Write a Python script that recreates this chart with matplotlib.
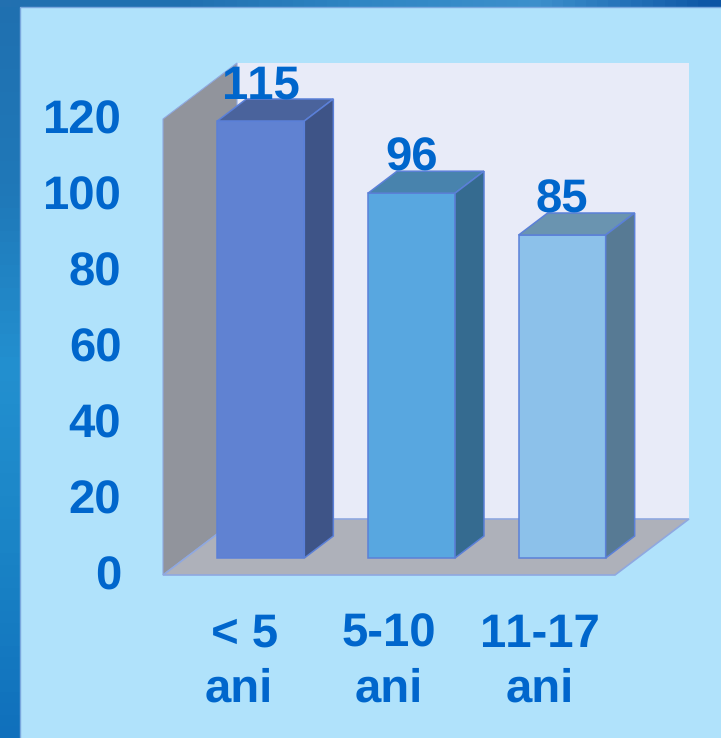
import numpy as np
import matplotlib.pyplot as plt
from matplotlib.colors import LinearSegmentedColormap
from matplotlib.patches import Polygon, Rectangle
from matplotlib.transforms import ScaledTranslation

categories = [" < 5\nani", "5-10\nani", "11-17\nani"]
values = [115, 96, 85]
y_ticks = [0, 20, 40, 60, 80, 100, 120]

front_colors = ["#6082d2", "#58a7e0", "#8cc1ea"]
top_colors = ["#4a639c", "#4883ad", "#6a94b0"]
side_colors = ["#3e5487", "#356b90", "#577a94"]
edge = "#5b80d8"
text_color = "#0066cc"

plt.rcParams['font.family'] = ['Liberation Sans', 'DejaVu Sans']
plt.rcParams['text.kerning_factor'] = 6
plt.rcParams['text.hinting'] = 'none'

W, H = 721, 738
fig = plt.figure(figsize=(W / 100, H / 100), dpi=100)

# slide background, in pixels
bg = fig.add_axes([0, 0, 1, 1])
bg.set_xlim(0, W)
bg.set_ylim(H, 0)
bg.axis('off')
left_cmap = LinearSegmentedColormap.from_list('l', ["#1f70b0", "#1f78b8", "#2390d0", "#1a84c6", "#1070bc"])
top_cmap = LinearSegmentedColormap.from_list('t', ["#2270b0", "#2070b0", "#2f86c4", "#3d90cc", "#0c55a5"])
bg.imshow(np.linspace(0, 1, 64).reshape(-1, 1), cmap=left_cmap, extent=(0, 20, H, 0), aspect='auto')
bg.imshow(np.linspace(0, 1, 64).reshape(1, -1), cmap=top_cmap, extent=(0, W, 7, 0), aspect='auto')
bg.set_xlim(0, W)
bg.set_ylim(H, 0)
bg.add_patch(Rectangle((20, 7), W, H, fc="#b0e2fb", ec="#7aa8de", lw=1))

# chart area, front edge of the floor
ax = fig.add_axes([163 / W, (H - 575) / H, 452 / W, 456 / H])
ax.set_xlim(-0.5, 2.5)
ax.set_ylim(0, 120)
ax.patch.set_alpha(0)
for s in ax.spines.values():
    s.set_visible(False)

# depth of the box and of the bars, in data units
dx = 74 / (452 / 3)
dy = 56 / 3.8
bar_w = 87 / (452 / 3)
off_x = 22.5 / (452 / 3)
off_y = 17 / 3.8
depth_x = 29 / (452 / 3)
depth_y = 22 / 3.8

x0, x1 = -0.5, 2.5
top = y_ticks[-1]
ax.add_patch(Rectangle((x0 + dx, dy), x1 - x0, top, fc="#e8ebf8", ec="none", clip_on=False, zorder=1))
ax.add_patch(Polygon([(x0, 0), (x0, top), (x0 + dx, top + dy), (x0 + dx, dy)],
                     fc="#91949c", ec="#8fa8e0", lw=0.8, clip_on=False, zorder=2))
ax.add_patch(Polygon([(x0, 0), (x1, 0), (x1 + dx, dy), (x0 + dx, dy)],
                     fc="#aeb1ba", ec="#8fa8e0", lw=1.2, clip_on=False, zorder=2))

for i, v in enumerate(values):
    left = i + off_x - bar_w / 2
    right = left + bar_w
    y_top = off_y + v
    ax.bar(i + off_x, v, bar_w, bottom=off_y, color=front_colors[i], edgecolor=edge, linewidth=1.1,
           clip_on=False, zorder=3)
    ax.add_patch(Polygon([(left, y_top), (right, y_top), (right + depth_x, y_top + depth_y), (left + depth_x, y_top + depth_y)],
                         fc=top_colors[i], ec=edge, lw=1.1, clip_on=False, zorder=3))
    ax.add_patch(Polygon([(right, off_y), (right, y_top), (right + depth_x, y_top + depth_y), (right + depth_x, off_y + depth_y)],
                         fc=side_colors[i], ec=edge, lw=1.1, clip_on=False, zorder=3))
    ax.annotate(str(v), (i + off_x, y_top), xytext=(0, 16), textcoords='offset points',
                ha='center', va='baseline', fontsize=34, fontweight='bold', color=text_color,
                annotation_clip=False, zorder=5)

ax.set_yticks(y_ticks)
ax.set_xticks(range(len(categories)))
ax.set_xticklabels(categories, linespacing=1.34)
ax.tick_params(axis='both', length=0, labelsize=34, labelcolor=text_color)
ax.tick_params(axis='y', pad=30)
ax.tick_params(axis='x', pad=27)
for t in ax.get_xticklabels():
    t.set_fontweight('bold')
up = ScaledTranslation(0, 2 / 100, fig.dpi_scale_trans)
for t in ax.get_yticklabels():
    t.set_fontweight('bold')
    t.set_transform(t.get_transform() + up)

fig.savefig('out.png', dpi=100)
